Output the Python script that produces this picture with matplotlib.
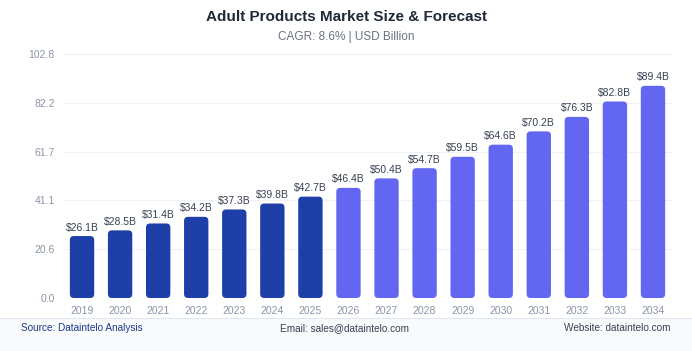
import matplotlib
matplotlib.use("Agg")
import matplotlib.pyplot as plt
import numpy as np
from matplotlib.patches import FancyBboxPatch, Rectangle

years = ["2019", "2020", "2021", "2022", "2023", "2024", "2025", "2026",
         "2027", "2028", "2029", "2030", "2031", "2032", "2033", "2034"]
values = [26.1, 28.5, 31.4, 34.2, 37.3, 39.8, 42.7, 46.4,
          50.4, 54.7, 59.5, 64.6, 70.2, 76.3, 82.8, 89.4]
labels = ["$26.1B", "$28.5B", "$31.4B", "$34.2B", "$37.3B", "$39.8B", "$42.7B", "$46.4B",
          "$50.4B", "$54.7B", "$59.5B", "$64.6B", "$70.2B", "$76.3B", "$82.8B", "$89.4B"]
historical_last = "2025"
ymax = 102.8

plt.rcParams['font.family'] = ['Liberation Sans', 'DejaVu Sans']

W, H = 692, 351
fig = plt.figure(figsize=(W / 100, H / 100), dpi=100)
fig.patch.set_facecolor("white")

ax_l, ax_r, ax_t, ax_b = 63, 672, 54, 298
ax = fig.add_axes([ax_l / W, 1 - ax_b / H, (ax_r - ax_l) / W, (ax_b - ax_t) / H])
ax.set_facecolor("white")

x = np.arange(len(years))
hist_idx = years.index(historical_last)
colors = ["#1e3fa8" if i <= hist_idx else "#6366f1" for i in range(len(years))]

bw = 0.64
bars = ax.bar(x, values, width=bw, color=colors, zorder=2)
ax.set_xlim(-0.5, len(years) - 0.5)
ax.set_ylim(0, ymax)

# rounded bars
px_per_x = (ax_r - ax_l) / len(years)
px_per_y = (ax_b - ax_t) / ymax
aspect = px_per_x / px_per_y
for b, c in zip(bars, colors):
    b.set_visible(False)
    r = 4 / px_per_x
    p = FancyBboxPatch((b.get_x(), b.get_y()), b.get_width(), b.get_height(),
                       boxstyle=f"round,pad=0,rounding_size={r}",
                       mutation_aspect=aspect, facecolor=c, edgecolor="none", zorder=2)
    ax.add_patch(p)

for xi, v, lab in zip(x, values, labels):
    ax.annotate(lab, (xi, v), xytext=(0, 2.5), textcoords="offset points",
                ha="center", va="bottom", fontsize=7.5, color="#374151")

yt = np.linspace(0, ymax, 6)
ax.set_yticks(yt)
ax.set_yticklabels([f"{t:.1f}" for t in yt])
ax.set_xticks(x)
ax.set_xticklabels(years)
ax.tick_params(axis="both", length=0, labelsize=7.5, labelcolor="#8a94a6")
ax.tick_params(axis="y", pad=6)
ax.tick_params(axis="x", pad=6)
ax.grid(axis="y", color="#f0f2f5", linewidth=0.8, zorder=0)
for s in ax.spines.values():
    s.set_visible(False)

fig.text(0.5, 1 - 17 / H, "Adult Products Market Size & Forecast", ha="center", va="center",
         fontsize=11, fontweight="bold", color="#1f2937")
fig.text(0.5, 1 - 37 / H, "CAGR: 8.6% | USD Billion", ha="center", va="center",
         fontsize=8.5, color="#6b7280")

# footer band
fig.patches.append(Rectangle((0, 0), 1, 1 - 318 / H, transform=fig.transFigure,
                             facecolor="#f8fafc", edgecolor="none", zorder=0))
fig.lines.append(plt.Line2D([0, 1], [1 - 318 / H] * 2, transform=fig.transFigure,
                            color="#e2e8f0", linewidth=0.8))
fy = 1 - 328 / H
fig.text(21 / W, fy, "Source: Dataintelo Analysis", ha="left", va="center",
         fontsize=7.2, color="#1e3a8a")
fig.text(345 / W, fy, "Email: sales@dataintelo.com", ha="center", va="center",
         fontsize=7.2, color="#374151")
fig.text(670 / W, fy, "Website: dataintelo.com", ha="right", va="center",
         fontsize=7.2, color="#374151")

fig.savefig("out.png", dpi=100, facecolor="white")
